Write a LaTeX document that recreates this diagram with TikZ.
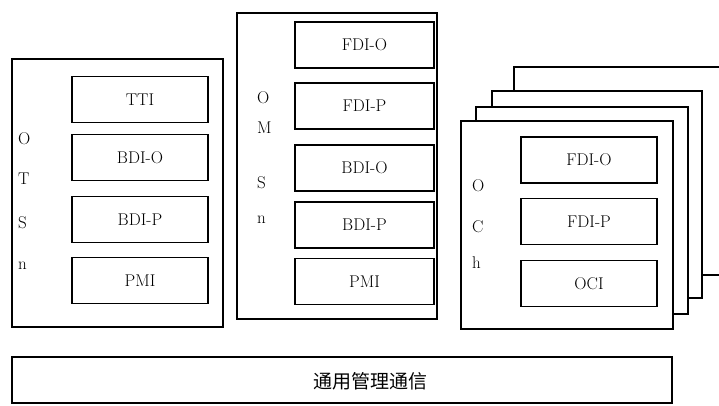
\documentclass[tikz,border=0pt]{standalone}
\usepackage{fontspec}
\newfontfamily\cjk{Noto Sans CJK SC}
\begin{document}
\begin{tikzpicture}[
  x = 1pt, y = -1pt,
  every node/.style = {inner sep = 0pt, font = \fontsize{17}{19}\selectfont},
  frame/.style = {draw, line width = 1.1pt, fill = white, minimum width = #1},
  slot/.style = {draw, line width = 1.1pt, minimum height = 46pt, minimum width = #1},
  tag/.style = {anchor = west}
  ]
  \useasboundingbox (0,0) rectangle (719,405);
  % OTSn
  \node[frame = 211pt, minimum height = 268pt] (otsn) at (117.5,193) {};
  \node[slot = 136pt] (tti)  at (140,99.5)  {TTI};
  \node[slot = 136pt] (bdio) at (140,157.5) {BDI-O};
  \node[slot = 136pt] (bdip) at (140,219.5) {BDI-P};
  \node[slot = 136pt] (pmi)  at (140,280.5) {PMI};
  \node[tag] (otsna) at (18,139) {O};
  \node[tag] (otsnb) at (18,179) {T};
  \node[tag] (otsnc) at (18,223) {S};
  \node[tag] (otsnd) at (18,266) {n};
  % OMSn
  \node[frame = 200pt, minimum height = 306pt] (omsn) at (337,166) {};
  \node[slot = 139pt] (mfdio) at (364.5,45)   {FDI-O};
  \node[slot = 139pt] (mfdip) at (364.5,106)  {FDI-P};
  \node[slot = 139pt] (mbdio) at (364.5,168)  {BDI-O};
  \node[slot = 139pt] (mbdip) at (364.5,225)  {BDI-P};
  \node[slot = 139pt] (mpmi)  at (364.5,281.5) {PMI};
  \node[tag] (omsna) at (257,98)  {O};
  \node[tag] (omsnb) at (257,128) {M};
  \node[tag] (omsnc) at (257,183) {S};
  \node[tag] (omsnd) at (257,220) {n};
  % OCh
  \node[frame = 230pt, minimum height = 208pt] (ochd) at (629,171) {};
  \node[frame = 210pt, minimum height = 207pt] (ochc) at (597,194.5) {};
  \node[frame = 212pt, minimum height = 207pt] (ochb) at (582,210.5) {};
  \node[frame = 212pt, minimum height = 208pt] (ocha) at (567,225) {};
  \node[slot = 136pt] (cfdio) at (589,160)   {FDI-O};
  \node[slot = 136pt] (cfdip) at (589,221.5) {FDI-P};
  \node[slot = 136pt] (oci)   at (589,283.5) {OCI};
  \node[tag] (ocha1) at (472,186) {O};
  \node[tag] (ocha2) at (472,227) {C};
  \node[tag] (ocha3) at (472,263) {h};
  % management
  \node[frame = 660pt, minimum height = 46pt] (gmc) at (342,380) {};
  \node[font = \cjk\fontsize{19}{21}\selectfont] (gmct) at (370,381) {通用管理通信};
\end{tikzpicture}
\end{document}
